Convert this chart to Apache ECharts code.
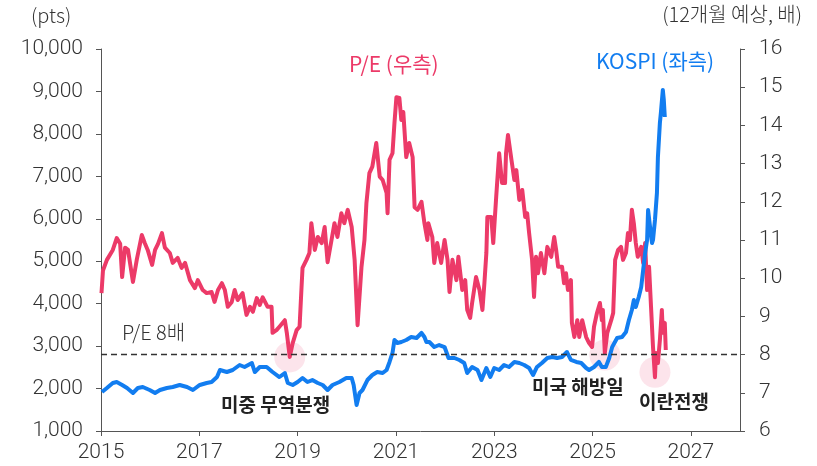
<!DOCTYPE html>
<html><head><meta charset="utf-8">
<script src="https://cdn.jsdelivr.net/npm/echarts@6/dist/echarts.min.js"></script>
<style>html,body{margin:0;padding:0;background:#fff}#c{width:817px;height:466px}</style>
</head><body><div id="c"></div>
<script>
// P/E (12M forward, right axis): [year, value]
const peData = [
[2015.01,9.61],[2015.04,10.2],[2015.12,10.48],[2015.24,10.74],[2015.32,11.05],[2015.39,10.9],[2015.43,10.03],[2015.49,10.8],[2015.55,10.74],[2015.65,9.9],[2015.73,10.5],[2015.83,11.13],[2015.89,10.92],[2015.95,10.74],
[2016.04,10.35],[2016.10,10.74],[2016.16,10.9],[2016.24,11.18],[2016.30,10.8],[2016.40,10.66],[2016.46,10.4],[2016.56,10.53],[2016.64,10.27],[2016.71,10.4],[2016.81,9.95],[2016.91,9.74],[2016.97,9.95],
[2017.07,9.69],[2017.15,9.61],[2017.25,9.64],[2017.31,9.38],[2017.38,9.69],[2017.46,9.87],[2017.52,9.69],[2017.58,9.25],[2017.66,9.38],[2017.72,9.69],[2017.78,9.43],[2017.88,9.61],[2017.96,9.04],
[2018.03,9.25],[2018.09,9.12],[2018.17,9.48],[2018.23,9.3],[2018.29,9.5],[2018.39,9.25],[2018.47,9.25],[2018.49,8.57],[2018.57,8.64],[2018.63,8.73],[2018.74,8.9],[2018.78,8.57],[2018.84,7.94],[2018.90,8.3],[2018.98,8.64],
[2019.04,8.73],[2019.08,9.77],[2019.10,10.27],[2019.18,10.48],[2019.24,10.66],[2019.28,11.44],[2019.35,10.74],[2019.41,11.08],[2019.49,10.92],[2019.55,11.34],[2019.61,10.42],[2019.69,11.0],[2019.75,11.44],[2019.81,11.08],[2019.89,11.7],[2019.95,11.44],
[2020.02,11.79],[2020.10,11.34],[2020.16,10.48],[2020.22,8.77],[2020.30,10.3],[2020.36,11.0],[2020.40,11.97],[2020.46,12.75],[2020.52,12.92],[2020.60,13.54],[2020.67,12.66],[2020.73,12.57],[2020.81,12.23],[2020.83,11.7],[2020.87,13.1],[2020.93,13.27],[2020.97,14.06],
[2021.01,14.74],[2021.07,14.72],[2021.11,14.14],[2021.15,14.35],[2021.21,13.17],[2021.27,13.54],[2021.34,13.17],[2021.38,11.86],[2021.44,11.79],[2021.52,12.0],[2021.58,11.44],[2021.64,11.0],[2021.66,11.44],[2021.74,11.08],[2021.78,10.4],[2021.84,10.92],[2021.92,10.4],[2021.99,11.0],
[2022.05,10.48],[2022.09,9.64],[2022.15,10.48],[2022.23,9.95],[2022.27,10.56],[2022.35,9.69],[2022.41,9.95],[2022.45,9.17],[2022.51,8.96],[2022.55,9.35],[2022.63,10.03],[2022.70,9.69],[2022.76,9.17],[2022.80,9.87],[2022.84,10.66],[2022.86,11.6],[2022.94,11.6],[2022.98,10.92],
[2023.04,12.13],[2023.10,13.27],[2023.16,12.49],[2023.22,12.49],[2023.24,13.27],[2023.28,13.75],[2023.35,13.1],[2023.41,12.57],[2023.45,12.83],[2023.51,12.05],[2023.57,12.31],[2023.63,11.6],[2023.67,11.7],[2023.71,11.18],[2023.77,10.48],[2023.81,9.51],[2023.85,10.56],[2023.89,10.13],[2023.95,10.66],
[2024.02,10.13],[2024.08,10.82],[2024.16,10.56],[2024.22,11.08],[2024.26,10.74],[2024.30,10.3],[2024.38,10.3],[2024.42,9.87],[2024.46,10.13],[2024.50,9.69],[2024.56,9.95],[2024.58,8.83],[2024.63,8.46],[2024.69,8.9],[2024.73,8.46],[2024.79,8.9],[2024.87,8.46],[2024.93,8.3],[2024.99,8.2],
[2025.03,8.73],[2025.09,9.09],[2025.15,9.35],[2025.19,8.9],[2025.21,9.17],[2025.25,8.04],[2025.30,8.57],[2025.38,8.9],[2025.42,9.09],[2025.46,10.48],[2025.52,10.74],[2025.58,10.82],[2025.62,10.48],[2025.68,10.66],[2025.72,11.18],[2025.76,11.0],[2025.80,11.79],[2025.84,11.44],[2025.88,10.92],[2025.92,10.56],[2025.99,10.82],
[2026.03,10.4],[2026.07,10.92],[2026.11,9.69],[2026.15,10.3],[2026.19,9.25],[2026.23,8.2],[2026.27,7.41],[2026.29,8.04],[2026.33,7.78],[2026.37,8.38],[2026.41,9.17],[2026.43,8.57],[2026.47,8.83],[2026.49,8.12]
];
// KOSPI (pts, left axis): [year, value]
const kospiData = [
[2015.02,1919],[2015.12,2013],[2015.24,2131],[2015.32,2154],[2015.43,2084],[2015.53,2013],[2015.65,1895],[2015.75,2013],[2015.85,2037],[2015.99,1966],
[2016.10,1895],[2016.20,1966],[2016.34,2013],[2016.46,2037],[2016.60,2084],[2016.75,2037],[2016.87,1966],
[2017.01,2084],[2017.15,2131],[2017.25,2154],[2017.36,2272],[2017.42,2437],[2017.56,2390],[2017.68,2437],[2017.82,2555],[2017.92,2508],
[2018.07,2602],[2018.13,2390],[2018.23,2508],[2018.37,2508],[2018.49,2390],[2018.63,2272],[2018.74,2366],[2018.80,2131],[2018.90,2084],
[2019.00,2154],[2019.10,2249],[2019.20,2154],[2019.30,2201],[2019.41,2131],[2019.51,2084],[2019.61,1966],[2019.71,2084],[2019.85,2154],[2019.99,2249],
[2020.10,2249],[2020.14,2084],[2020.20,1613],[2020.26,1895],[2020.32,1966],[2020.42,2201],[2020.52,2319],[2020.62,2390],[2020.73,2366],[2020.81,2437],[2020.87,2626],[2020.93,2838],[2020.97,3144],
[2021.03,3073],[2021.11,3097],[2021.21,3144],[2021.31,3215],[2021.42,3191],[2021.52,3309],[2021.58,3215],[2021.62,3097],[2021.68,3097],[2021.78,2979],[2021.88,3026],[2021.99,2979],
[2022.07,2720],[2022.19,2720],[2022.29,2673],[2022.39,2602],[2022.45,2366],[2022.55,2508],[2022.66,2437],[2022.74,2201],[2022.84,2484],[2022.92,2272],
[2023.00,2484],[2023.10,2437],[2023.20,2555],[2023.30,2508],[2023.41,2626],[2023.51,2602],[2023.61,2555],[2023.71,2484],[2023.79,2319],[2023.87,2508],[2023.97,2602],
[2024.08,2720],[2024.18,2743],[2024.28,2720],[2024.38,2743],[2024.48,2861],[2024.56,2673],[2024.67,2626],[2024.77,2602],[2024.87,2484],[2024.93,2437],
[2025.03,2508],[2025.13,2626],[2025.19,2508],[2025.27,2508],[2025.34,2720],[2025.40,2979],[2025.50,3191],[2025.60,3215],[2025.68,3333],[2025.74,3615],[2025.80,3851],[2025.84,4086],[2025.88,3921],[2025.94,4157],[2025.99,4393],
[2026.03,4793],[2026.07,5194],[2026.11,5500],[2026.13,6207],[2026.17,5806],[2026.21,5429],[2026.23,5500],[2026.27,5971],[2026.31,6607],[2026.33,7455],[2026.37,8256],[2026.39,8492],[2026.43,9034],[2026.45,8798],[2026.47,8398]
];
// Highlighted P/E lows (right axis)
const eventPoints = [[2018.84,7.94],[2025.25,7.99],[2026.27,7.54]];
const peThreshold = 8;
const xTickYears = [2015,2017,2019,2021,2023,2025,2027];

const RED = '#EC3A68', BLUE = '#127DF0';
const FONT = "'Noto Sans CJK KR', 'Noto Sans', sans-serif";
const NUMFONT = "Roboto, 'Noto Sans', sans-serif";
const axisCommon = {
  axisLine:{show:true,lineStyle:{color:'#555',width:1}},
  axisTick:{show:true,length:5,lineStyle:{color:'#555'}},
  splitLine:{show:false},
  axisLabel:{color:'#333',fontSize:21,fontFamily:NUMFONT,fontWeight:300}
};
const chart = echarts.init(document.getElementById('c'));
chart.setOption({
  animation:false,
  grid:{left:101,right:77,top:49,bottom:35},
  xAxis:Object.assign({},axisCommon,{type:'value',min:2015,max:2028,interval:2,
    axisLabel:Object.assign({},axisCommon.axisLabel,{margin:11,showMaxLabel:false,
      formatter:v=> xTickYears.includes(v)? String(v):''})}),
  yAxis:[
    Object.assign({},axisCommon,{type:'value',min:1000,max:10000,interval:1000,
      axisLabel:Object.assign({},axisCommon.axisLabel,{margin:18})}),
    Object.assign({},axisCommon,{type:'value',min:6,max:16,interval:1,position:'right',
      axisLabel:Object.assign({},axisCommon.axisLabel,{margin:19})})
  ],
  series:[
    {type:'scatter',yAxisIndex:1,data:eventPoints,symbolSize:31,z:1,silent:true,
     itemStyle:{color:'rgba(240,120,155,0.25)'}},
    {type:'line',yAxisIndex:1,data:peData,showSymbol:false,z:3,
     lineStyle:{color:RED,width:4,join:'round'},
     markLine:{silent:true,symbol:'none',label:{show:false},
       lineStyle:{color:'#333',width:1.3,type:[6,4]},data:[{yAxis:peThreshold}]}},
    {type:'line',yAxisIndex:0,data:kospiData,showSymbol:false,z:4,
     lineStyle:{color:BLUE,width:4,join:'round'}}
  ],
  graphic:[
    {type:'text',left:31,top:5,style:{text:'(pts)',fontSize:20,fill:'#333',fontFamily:FONT,fontWeight:300}},
    {type:'text',right:15,top:4,style:{text:'(12개월 예상, 배)',fontSize:20,fill:'#333',fontFamily:FONT,fontWeight:300}},
    {type:'text',left:349,top:54,style:{text:'P/E (우측)',fontSize:21,fill:RED,fontFamily:FONT}},
    {type:'text',left:596,top:51,style:{text:'KOSPI (좌측)',fontSize:21,fill:BLUE,fontFamily:FONT}},
    {type:'text',left:122,top:322,style:{text:'P/E 8배',fontSize:20,fill:'#333',fontFamily:FONT,fontWeight:300}},
    {type:'text',left:221,top:395,style:{text:'미중 무역분쟁',fontSize:19,fontWeight:'bold',fill:'#222',fontFamily:FONT}},
    {type:'text',left:532,top:377,style:{text:'미국 해방일',fontSize:19,fontWeight:'bold',fill:'#222',fontFamily:FONT}},
    {type:'text',left:639,top:392,style:{text:'이란전쟁',fontSize:19,fontWeight:'bold',fill:'#222',fontFamily:FONT}}
  ]
});
</script></body></html>
